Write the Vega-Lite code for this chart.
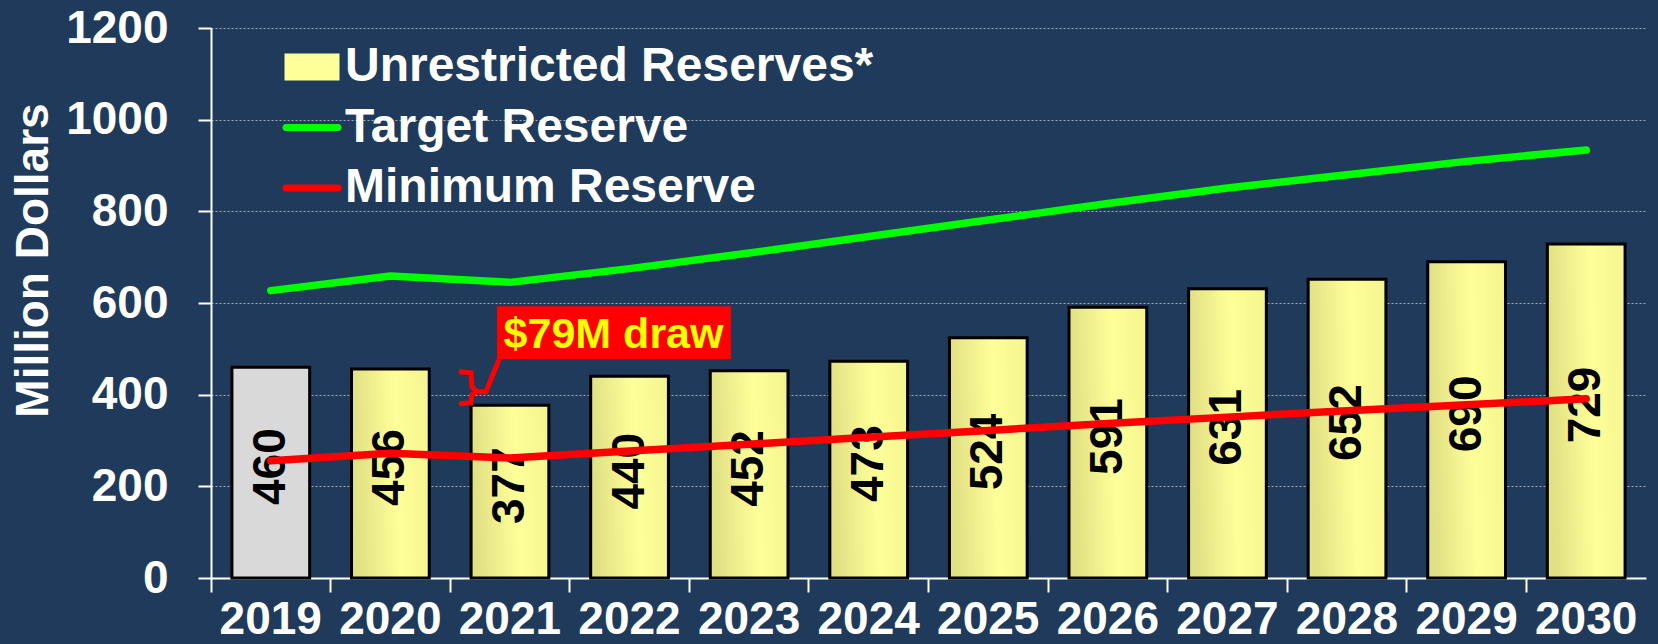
{
  "$schema": "https://vega.github.io/schema/vega-lite/v6.json",
  "width": 1435,
  "height": 550,
  "autosize": {"type": "none"},
  "padding": {"left": 211, "top": 28, "right": 12, "bottom": 66},
  "background": "#1F3A5A",
  "config": {
    "view": {"stroke": null},
    "font": "Liberation Sans",
    "legend": {
      "orient": "none",
      "legendX": 77,
      "legendY": 15,
      "title": null,
      "padding": 0,
      "symbolSize": 2704,
      "symbolStrokeWidth": 2,
      "labelFont": "Liberation Sans",
      "labelFontSize": 48,
      "labelFontWeight": "bold",
      "labelColor": "#FFFFFF",
      "labelOffset": 9,
      "rowPadding": 12.5,
      "labelLimit": 900
    }
  },
  "datasets": {
    "bars": [
      {"year": "2019", "reserves": 460},
      {"year": "2020", "reserves": 456},
      {"year": "2021", "reserves": 377},
      {"year": "2022", "reserves": 440},
      {"year": "2023", "reserves": 452},
      {"year": "2024", "reserves": 473},
      {"year": "2025", "reserves": 524},
      {"year": "2026", "reserves": 591},
      {"year": "2027", "reserves": 631},
      {"year": "2028", "reserves": 652},
      {"year": "2029", "reserves": 690},
      {"year": "2030", "reserves": 729}
    ],
    "lines": [
      {"year": "2019", "series": "Target Reserve", "value": 627},
      {"year": "2020", "series": "Target Reserve", "value": 659},
      {"year": "2021", "series": "Target Reserve", "value": 645},
      {"year": "2022", "series": "Target Reserve", "value": 675},
      {"year": "2023", "series": "Target Reserve", "value": 709},
      {"year": "2024", "series": "Target Reserve", "value": 745},
      {"year": "2025", "series": "Target Reserve", "value": 781},
      {"year": "2026", "series": "Target Reserve", "value": 817},
      {"year": "2027", "series": "Target Reserve", "value": 851},
      {"year": "2028", "series": "Target Reserve", "value": 880},
      {"year": "2029", "series": "Target Reserve", "value": 909},
      {"year": "2030", "series": "Target Reserve", "value": 934},
      {"year": "2019", "series": "Minimum Reserve", "value": 256},
      {"year": "2020", "series": "Minimum Reserve", "value": 272},
      {"year": "2021", "series": "Minimum Reserve", "value": 262},
      {"year": "2022", "series": "Minimum Reserve", "value": 277},
      {"year": "2023", "series": "Minimum Reserve", "value": 292},
      {"year": "2024", "series": "Minimum Reserve", "value": 307},
      {"year": "2025", "series": "Minimum Reserve", "value": 322},
      {"year": "2026", "series": "Minimum Reserve", "value": 337},
      {"year": "2027", "series": "Minimum Reserve", "value": 351},
      {"year": "2028", "series": "Minimum Reserve", "value": 365},
      {"year": "2029", "series": "Minimum Reserve", "value": 378},
      {"year": "2030", "series": "Minimum Reserve", "value": 391}
    ],
    "notes": [
      {"year": "2022", "value": 535, "label": "$79M draw"}
    ],
    "bracket": [
      {"year": "2021", "value": 415}
    ]
  },
  "resolve": {"scale": {"y": "independent"}},
  "layer": [
    {
      "data": {"name": "bars"},
      "mark": {"type": "bar", "width": {"band": 0.65}, "stroke": "#000000", "strokeWidth": 3},
      "encoding": {
        "x": {
          "field": "year", "type": "nominal",
          "scale": {"paddingInner": 0, "paddingOuter": 0},
          "axis": {
            "title": null, "labelAngle": 0, "labelFont": "Liberation Sans", "labelFontSize": 46,
            "labelFontWeight": "bold", "labelColor": "#FFFFFF", "labelPadding": 5,
            "tickSize": 14, "tickWidth": 2, "tickColor": "#FFFFFF", "bandPosition": 0,
            "domainColor": "#FFFFFF", "domainWidth": 2, "grid": false
          }
        },
        "y": {
          "field": "reserves", "type": "quantitative",
          "scale": {"domain": [0, 1200], "nice": false},
          "axis": {
            "title": "Million Dollars", "titleFont": "Liberation Sans", "titleFontSize": 46,
            "titleFontWeight": "bold", "titleColor": "#FFFFFF", "titleX": -178, "titleY": 232,
            "titleAlign": "center", "titleBaseline": "middle", "titleAngle": 270,
            "values": [0, 200, 400, 600, 800, 1000, 1200], "format": "d",
            "labelFont": "Liberation Sans", "labelFontSize": 46, "labelFontWeight": "bold",
            "labelColor": "#FFFFFF", "labelPadding": 30, "tickSize": 13, "tickWidth": 2,
            "tickColor": "#FFFFFF", "domainColor": "#FFFFFF", "domainWidth": 2,
            "grid": true, "gridColor": "#C8C8C8", "gridDash": [2, 2], "gridWidth": 1, "gridOpacity": 0.8
          }
        },
        "fill": {
          "condition": {"test": "datum.year == '2019'", "value": "#D9D9D9"},
          "value": {
            "gradient": "linear", "x1": 0, "y1": 0.1, "x2": 1, "y2": 0,
            "stops": [
              {"offset": 0, "color": "#E0E084"},
              {"offset": 0.55, "color": "#FFFF99"},
              {"offset": 1, "color": "#F4F490"}
            ]
          }
        }
      }
    },
    {
      "data": {"name": "bars"},
      "mark": {"type": "text", "angle": 270, "font": "Liberation Sans", "fontSize": 46, "fontWeight": "bold", "color": "#000000", "align": "center", "baseline": "middle", "dx": 6},
      "encoding": {
        "x": {"field": "year", "type": "nominal"},
        "y": {"field": "reserves", "type": "quantitative", "scale": {"domain": [0, 2400], "nice": false}, "axis": null},
        "text": {"field": "reserves", "type": "quantitative"}
      }
    },
    {
      "data": {"name": "lines"},
      "mark": {"type": "line", "strokeWidth": 7.5, "strokeCap": "round", "strokeJoin": "round"},
      "encoding": {
        "x": {"field": "year", "type": "nominal"},
        "y": {"field": "value", "type": "quantitative", "scale": {"domain": [0, 1200], "nice": false}, "axis": null},
        "color": {
          "field": "series", "type": "nominal",
          "scale": {"domain": ["Unrestricted Reserves*", "Target Reserve", "Minimum Reserve"], "range": ["#FFFF99", "#00FF00", "#FF0000"]},
          "legend": {
            "encode": {
              "symbols": {
                "update": {
                  "shape": {"signal": "datum.value == 'Unrestricted Reserves*' ? 'M-1,-0.46H1V0.46H-1Z' : 'stroke'"},
                  "fill": {"signal": "datum.value == 'Unrestricted Reserves*' ? '#FFFF99' : 'transparent'"},
                  "stroke": {"signal": "datum.value == 'Unrestricted Reserves*' ? '#000000' : (datum.value == 'Target Reserve' ? '#00FF00' : '#FF0000')"},
                  "strokeWidth": {"signal": "datum.value == 'Unrestricted Reserves*' ? 3 : 7"},
                  "strokeCap": {"value": "round"},
                  "opacity": {"value": 1},
                  "fillOpacity": {"value": 1},
                  "strokeOpacity": {"value": 1}
                }
              }
            }
          }
        },
        "order": {"field": "year"}
      }
    },
    {
      "data": {"name": "notes"},
      "mark": {"type": "point", "shape": "M-117,-26.5H117V26.5H-117Z", "size": 4, "filled": true, "fill": "#FF0000", "stroke": null, "opacity": 1, "xOffset": -15.5},
      "encoding": {
        "x": {"field": "year", "type": "nominal"},
        "y": {"field": "value", "type": "quantitative", "scale": {"domain": [0, 1200], "nice": false}, "axis": null}
      }
    },
    {
      "data": {"name": "notes"},
      "mark": {"type": "text", "font": "Liberation Sans", "fontSize": 43, "fontWeight": "bold", "color": "#FFFF00", "align": "center", "baseline": "middle", "dx": -16, "dy": 2},
      "encoding": {
        "x": {"field": "year", "type": "nominal"},
        "y": {"field": "value", "type": "quantitative", "scale": {"domain": [0, 1200], "nice": false}, "axis": null},
        "text": {"field": "label", "type": "nominal"}
      }
    },
    {
      "data": {"name": "bracket"},
      "mark": {"type": "point", "shape": "M-12,-16L0,-15L1,-1L6,4L1,7L0,15L-12,16M6,4L15,4L28,-28", "size": 4, "filled": false, "stroke": "#FF0000", "strokeWidth": 5, "strokeJoin": "miter", "opacity": 1, "xOffset": -39},
      "encoding": {
        "x": {"field": "year", "type": "nominal"},
        "y": {"field": "value", "type": "quantitative", "scale": {"domain": [0, 1200], "nice": false}, "axis": null}
      }
    }
  ]
}
